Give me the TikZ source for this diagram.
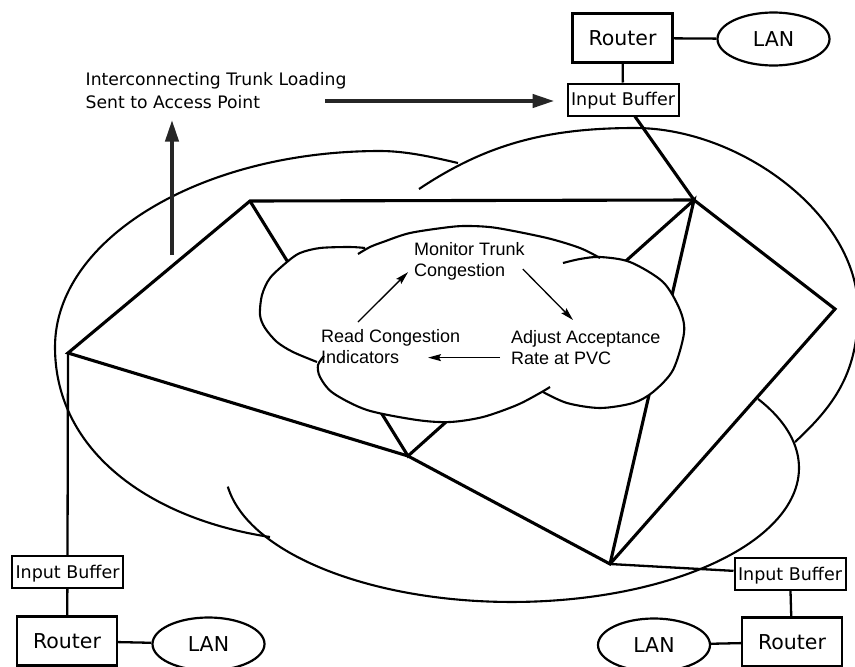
\documentclass[tikz,border=0pt]{standalone}
\usepackage{fontspec}
\setmainfont{DejaVu Sans}
\newfontfamily\cloudfont{Liberation Sans}
\usetikzlibrary{arrows.meta, positioning, shapes.geometric}

\tikzset{
  router/.style={draw, line width=2.2pt, minimum width=100pt, minimum height=49pt, inner sep=0pt, font=\fontsize{20.5}{24}\selectfont},
  buffer/.style={draw, line width=2pt, minimum width=111pt, minimum height=32pt, inner sep=0pt, text height=12.6pt, text depth=0pt, font=\fontsize{17.5}{20}\selectfont},
  lan/.style={draw, ellipse, line width=2.2pt, minimum width=112pt, minimum height=53pt, inner sep=0pt, font=\fontsize{20.5}{24}\selectfont},
  cloudtext/.style={anchor=north west, align=left, inner sep=0pt, font=\cloudfont\fontsize{18}{21}\selectfont},
  trunk/.style={line width=3.1pt},
  link/.style={line width=2.3pt},
  lobe/.style={line width=2.1pt},
  load/.style={line width=4.3pt, black!85, -{Triangle[length=22pt,width=13pt]}},
  loop/.style={line width=1.3pt, -{Stealth[length=13pt,width=7pt,inset=2pt]}}
}

\begin{document}
\begin{tikzpicture}[x=1pt, y=-1pt]
                    \useasboundingbox (0,0) rectangle (855,667);
                    % Outer cloud
                    \draw[lobe] (458,163) .. controls (432,157) and (406,151) .. (380,151)
                        .. controls (201,151) and (55,239) .. (55,347)
                        .. controls (55,452) and (151,519) .. (270,537);
                    \draw[lobe] (419,189) .. controls (485,145) and (545,128) .. (635,128)
                        .. controls (740,128) and (858,215) .. (858,310)
                        .. controls (858,372) and (835,405) .. (795,442);
                    \draw[lobe] (227.8,486.6) arc[start angle=172, end angle=-31, x radius=287, y radius=134];
                    % Trunk network
                    \coordinate (trunkNW) at (250,201);
                    \coordinate (trunkNE) at (694,200);
                    \coordinate (trunkE) at (835,309);
                    \coordinate (trunkS) at (610,564);
                    \coordinate (trunkC) at (408,456);
                    \coordinate (trunkW) at (68,353);
                    \draw[trunk] (trunkW) -- (trunkNW) -- (trunkNE) -- (trunkE) -- (trunkS) -- (trunkC) -- cycle;
                    \draw[trunk] (trunkNW) -- (trunkC) -- (trunkNE) -- (trunkS);
                    % Inner cloud
                    \fill[white] plot[smooth cycle] coordinates {(365,248) (383,242) (410,233) (450,227) (497,228) (547,238) (580,248) (600,258) (630,262) (663,282) (680,310) (684,333) (673,370) (653,392) (633,403) (600,408) (567,403) (543,392) (517,405) (483,417) (450,422) (417,420) (367,410) (333,393) (320,377) (318,363) (293,352) (277,342) (265,328) (260,315) (262,295) (270,278) (287,262) (300,253) (320,248) (350,247)};
                    \draw[lobe] plot[smooth] coordinates {(365,248) (350,247) (320,248) (300,253) (287,262) (270,278) (262,295) (260,315) (265,328) (277,342) (293,352) (317,362)};
                    \draw[lobe] plot[smooth] coordinates {(358,254) (370,247) (383,242) (410,233) (450,227) (470,226) (497,228) (547,238) (580,248) (600,258)};
                    \draw[lobe] plot[smooth] coordinates {(563,263) (580,259) (600,257) (630,262) (663,282) (680,310) (684,333) (673,370) (653,392) (633,403) (600,408) (567,403) (543,392)};
                    \draw[lobe] plot[smooth] coordinates {(324,356) (318,365) (320,377) (333,393) (367,410) (417,420) (450,422) (483,417) (517,405) (540,393) (550,387)};
                    % Congestion loop
                    \node[cloudtext] (monitor) at (414,242) {Monitor Trunk\\Congestion};
                    \node[cloudtext] (readCong) at (321,329) {Read Congestion\\Indicators};
                    \node[cloudtext] (adjust) at (511,330) {Adjust Acceptance\\Rate at PVC};
                    \draw[loop] ([shift={(37,-7)}]readCong.north west) -- ([shift={(-6,-8)}]monitor.south west);
                    \draw[loop] ([shift={(-2,27)}]monitor.north east) -- ([shift={(62,-10)}]adjust.north west);
                    \draw[loop] ([shift={(-11,-7)}]adjust.south west) -- ([shift={(107,-6)}]readCong.south west);
                    % Access points
                    \node[router] (rtTop) at (622.5,38) {Router};
                    \node[lan] (lanTop) at (773.5,39) {LAN};
                    \node[buffer] (ibTop) at (623,99.5) {Input Buffer};
                    \node[router] (rtLeft) at (67,641) {Router};
                    \node[lan] (lanLeft) at (208.5,644) {LAN};
                    \node[buffer] (ibLeft) at (67.5,572) {Input Buffer};
                    \node[router] (rtRight) at (792,642) {Router};
                    \node[lan] (lanRight) at (654,645) {LAN};
                    \node[buffer] (ibRight) at (790,574) {Input Buffer};
                    \draw[link] (rtTop) -- (lanTop);
                    \draw[link] (rtTop) -- (ibTop);
                    \draw[trunk] (ibTop) -- (trunkNE);
                    \draw[link] (rtLeft) -- (lanLeft);
                    \draw[link] (rtLeft) -- (ibLeft);
                    \draw[link] (ibLeft.north) -- (trunkW);
                    \draw[link] (rtRight) -- (lanRight);
                    \draw[link] (rtRight) -- (ibRight);
                    \draw[link] (ibRight) -- (trunkS);
                    % Loading report
                    \node[anchor=north west, align=left, inner sep=0pt, font=\fontsize{17.2}{23}\selectfont] (trunkLabel) at (85.5,72) {Interconnecting Trunk Loading\\Sent to Access Point};
                    \coordinate (loadStart) at (325,101);
                    \coordinate (upStart) at (172,255);
                    \draw[load, shorten >=12pt] (loadStart) -- (ibTop.west |- loadStart);
                    \draw[load, shorten >=11pt] (upStart) -- (upStart |- trunkLabel.south);
                \end{tikzpicture}
\end{document}
